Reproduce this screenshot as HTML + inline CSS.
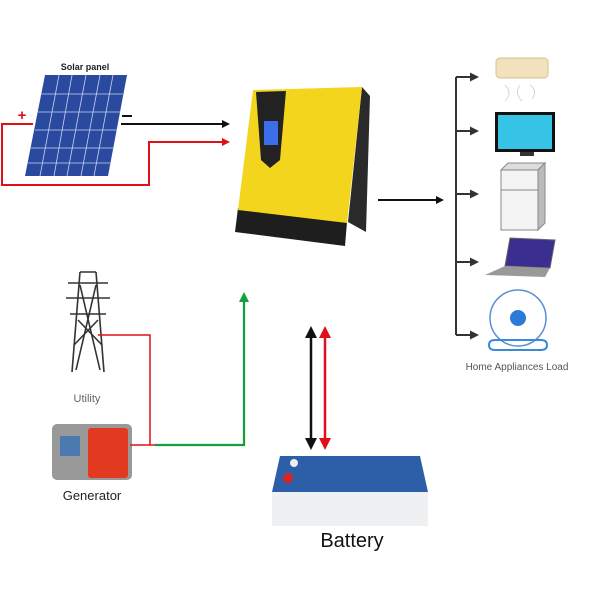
<!DOCTYPE html>
<html><head><meta charset="utf-8"><style>
html,body{margin:0;padding:0;background:#fff;}
svg{display:block;font-family:"Liberation Sans",sans-serif;}
</style></head><body>
<svg width="600" height="600" viewBox="0 0 600 600" xmlns="http://www.w3.org/2000/svg">
<defs>
<marker id="ab" markerWidth="8" markerHeight="8" refX="6" refY="4" orient="auto" markerUnits="userSpaceOnUse"><path d="M0,0 L8,4 L0,8 Z" fill="#111"/></marker>
<marker id="ar" markerWidth="8" markerHeight="8" refX="6" refY="4" orient="auto" markerUnits="userSpaceOnUse"><path d="M0,0 L8,4 L0,8 Z" fill="#e0101a"/></marker>
<marker id="ag" markerWidth="10" markerHeight="10" refX="6" refY="5" orient="auto" markerUnits="userSpaceOnUse"><path d="M0,0 L10,5 L0,10 Z" fill="#13a03c"/></marker>
<marker id="ab2" markerWidth="12" markerHeight="12" refX="8" refY="6" orient="auto-start-reverse" markerUnits="userSpaceOnUse"><path d="M0,0 L12,6 L0,12 Z" fill="#111"/></marker>
<marker id="ar2" markerWidth="12" markerHeight="12" refX="8" refY="6" orient="auto-start-reverse" markerUnits="userSpaceOnUse"><path d="M0,0 L12,6 L0,12 Z" fill="#e0101a"/></marker>
<marker id="al" markerWidth="9" markerHeight="9" refX="6" refY="4.5" orient="auto" markerUnits="userSpaceOnUse"><path d="M0,0 L9,4.5 L0,9 Z" fill="#333"/></marker>
</defs>

<!-- solar panel -->
<text x="85" y="70" font-size="9" font-weight="bold" text-anchor="middle" fill="#222">Solar panel</text>
<polygon points="45,75 127,75 108,176 25,176" fill="#2a4aa0"/>
<g stroke="#c9d4f0" stroke-width="0.8">
<line x1="41" y1="94" x2="123" y2="94"/><line x1="38" y1="112" x2="120" y2="112"/><line x1="35" y1="130" x2="117" y2="130"/><line x1="31" y1="148" x2="113" y2="148"/><line x1="28" y1="163" x2="110" y2="163"/>
<line x1="59" y1="75" x2="40" y2="176"/><line x1="72" y1="75" x2="54" y2="176"/><line x1="86" y1="75" x2="67" y2="176"/><line x1="100" y1="75" x2="81" y2="176"/><line x1="113" y1="75" x2="94" y2="176"/>
</g>
<text x="22" y="120" font-size="15" font-weight="bold" fill="#e0101a" text-anchor="middle">+</text>
<rect x="122" y="115" width="10" height="2" fill="#111"/>
<line x1="121" y1="124" x2="228" y2="124" stroke="#111" stroke-width="2" marker-end="url(#ab)"/>
<polyline points="33,124 2,124 2,185 149,185 149,142 228,142" fill="none" stroke="#e0101a" stroke-width="2" marker-end="url(#ar)"/>

<!-- inverter -->
<polygon points="362,87 370,96 366,232 348,222" fill="#2a2a2a"/>
<polygon points="238,208 347,222 345,246 235,232" fill="#1e1e1e"/>
<polygon points="253,90 362,87 347,223 238,210" fill="#f2d51c"/>
<polygon points="256,92 286,91 280,160 270,168 261,160" fill="#222"/>
<rect x="264" y="121" width="14" height="24" fill="#3b6ee8"/>

<line x1="378" y1="200" x2="442" y2="200" stroke="#111" stroke-width="2" marker-end="url(#ab)"/>

<!-- loads bus -->
<line x1="456" y1="77" x2="456" y2="335" stroke="#333" stroke-width="2"/>
<g stroke="#333" stroke-width="2">
<line x1="456" y1="77" x2="476" y2="77" marker-end="url(#al)"/>
<line x1="456" y1="131" x2="476" y2="131" marker-end="url(#al)"/>
<line x1="456" y1="194" x2="476" y2="194" marker-end="url(#al)"/>
<line x1="456" y1="262" x2="476" y2="262" marker-end="url(#al)"/>
<line x1="456" y1="335" x2="476" y2="335" marker-end="url(#al)"/>
</g>
<!-- AC -->
<rect x="496" y="58" width="52" height="20" rx="4" fill="#f1e2bd" stroke="#d8c090"/>
<path d="M505,85 q8,8 0,16 M520,85 q-6,8 2,16 M530,85 q8,6 2,14" stroke="#ccd8e6" fill="none"/>
<!-- TV -->
<rect x="495" y="112" width="60" height="40" fill="#111"/>
<rect x="498" y="115" width="54" height="34" fill="#35c3e6"/>
<rect x="520" y="152" width="14" height="4" fill="#333"/>
<!-- fridge -->
<polygon points="501,170 538,170 545,163 508,163" fill="#ddd" stroke="#888"/>
<rect x="501" y="170" width="37" height="60" fill="#f4f4f4" stroke="#888"/>
<polygon points="538,170 545,163 545,223 538,230" fill="#bbb" stroke="#888"/>
<line x1="501" y1="190" x2="538" y2="190" stroke="#888"/>
<!-- laptop -->
<polygon points="510,238 555,240 550,268 505,266" fill="#3a2f90" stroke="#666"/>
<polygon points="505,266 550,268 545,277 485,275" fill="#999"/>
<!-- fan -->
<circle cx="518" cy="318" r="28" fill="none" stroke="#5a8fd6" stroke-width="1.5"/>
<circle cx="518" cy="318" r="8" fill="#2b7ad8"/>
<path d="M495,340 h46 q6,0 6,5 q0,5 -6,5 h-46 q-6,0 -6,-5 q0,-5 6,-5z" fill="none" stroke="#3a8ad8" stroke-width="2"/>
<text x="517" y="370" font-size="10" fill="#555" text-anchor="middle">Home Appliances Load</text>

<!-- utility tower -->
<g stroke="#333" stroke-width="1.6" fill="none">
<path d="M80,272 L72,372 M96,272 L104,372 M80,272 L96,272"/>
<path d="M68,283 h40 M66,298 h44 M70,314 h36"/>
<path d="M80,285 L100,370 M96,285 L76,370 M78,320 L102,345 M98,320 L74,345"/>
</g>
<text x="87" y="402" font-size="11" fill="#666" text-anchor="middle">Utility</text>
<!-- generator -->
<rect x="52" y="424" width="80" height="56" rx="5" fill="#999"/>
<rect x="88" y="428" width="40" height="50" rx="3" fill="#e23a20"/>
<rect x="60" y="436" width="20" height="20" fill="#4a7ab0"/>
<text x="92" y="500" font-size="13" fill="#222" text-anchor="middle">Generator</text>
<polyline points="98,335 150,335 150,445 130,445 155,445" fill="none" stroke="#e0101a" stroke-width="1.5"/>
<polyline points="155,445 244,445 244,296" fill="none" stroke="#13a03c" stroke-width="2.2" marker-end="url(#ag)"/>

<!-- battery arrows -->
<line x1="311" y1="330" x2="311" y2="446" stroke="#111" stroke-width="2.5" marker-start="url(#ab2)" marker-end="url(#ab2)"/>
<line x1="325" y1="330" x2="325" y2="446" stroke="#e0101a" stroke-width="2.5" marker-start="url(#ar2)" marker-end="url(#ar2)"/>
<!-- battery -->
<polygon points="280,456 420,456 428,492 272,492" fill="#2d5ea8"/>
<rect x="272" y="492" width="156" height="34" fill="#eef0f2"/>
<circle cx="294" cy="463" r="4" fill="#eee"/>
<circle cx="288" cy="478" r="5" fill="#d22"/>
<text x="352" y="547" font-size="20" fill="#111" text-anchor="middle">Battery</text>
</svg>
</body></html>
